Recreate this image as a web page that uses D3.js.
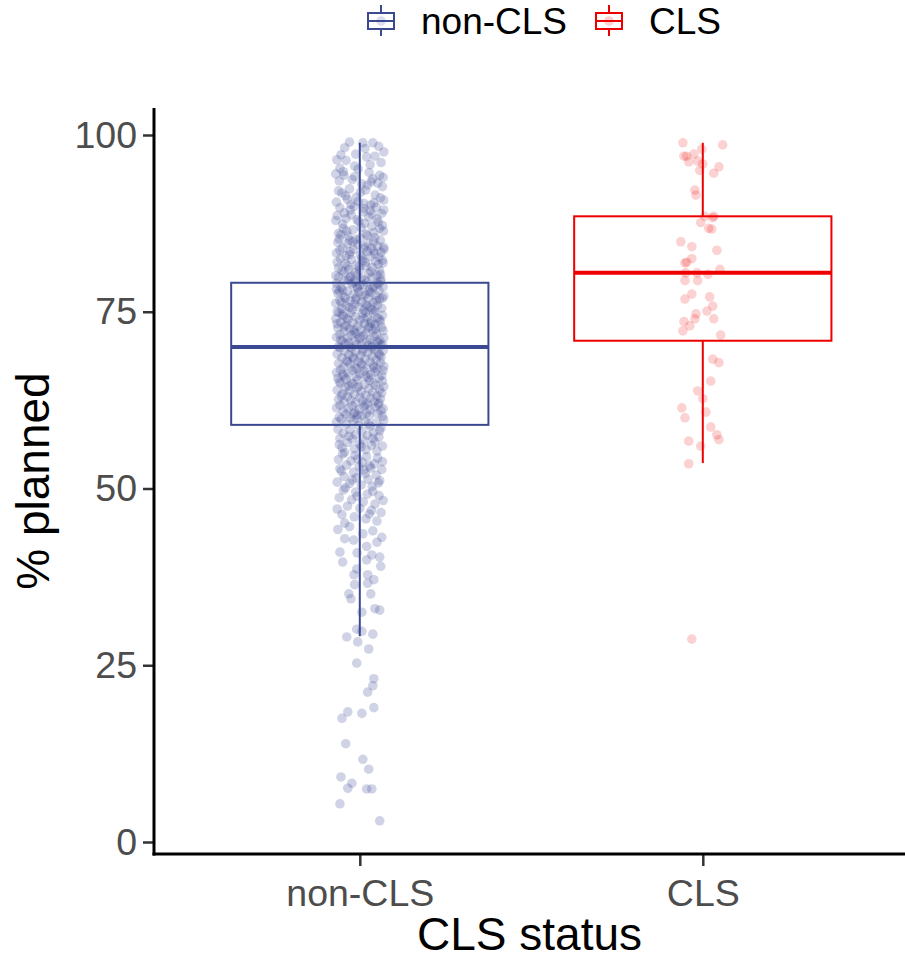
<!DOCTYPE html>
<html>
<head>
<meta charset="utf-8">
<script src="https://cdn.jsdelivr.net/npm/d3@7"></script>
<style>
  body { margin: 0; background: #fff; }
  text { font-family: "Liberation Sans", Arial, sans-serif; }
</style>
</head>
<body>
<div id="chart"></div>
<script>
// categories and colours (ggsci AAAS-like)
var categories = ["non-CLS", "CLS"];
var colors = ["#3B4992", "#EE0000"];
var yTicks = [0, 25, 50, 75, 100];

// box statistics: [lower whisker, Q1, median, Q3, upper whisker]
var boxNonCls = [29.1, 59.0, 70.0, 79.1, 98.9];
var boxCls = [53.6, 70.9, 80.5, 88.5, 98.9];

// jittered points: [horizontal jitter (category units), % planned]
var pointsNonCls = [
  [0.009,98.9],[0.038,98.9],[-0.044,98.2],[-0.012,97.3],[0.044,97],[-0.055,97.2],[0.02,96.9],[-0.015,95.6],[-0.058,95.3],[0.062,96.1],[0.03,95.8],[-0.03,99],[0.055,98.4],[-0.067,96.5],[0.07,97.6],[-0.005,95.2],[0.015,98.1],[-0.04,96.4],
  [-0.046,94.3],[-0.015,94.1],[0.058,94.3],[0.038,93.8],[-0.06,93.5],[0.005,93.1],[0.066,92.7],[-0.03,92.4],[0.022,92.9],[-0.052,91.8],[0.045,91.5],[-0.01,91.2],[0.07,90.8],[-0.068,90.5],[0.012,90.3],[0.032,90.1],[-0.036,90.9],[0.052,93.2],[-0.022,93.7],[0.06,91.1],[-0.062,92.1],[0.002,91.9],[0.027,94.7],[-0.048,94.8],[0.041,90.4],[-0.005,90.6],[0.017,92.2],[-0.041,91.4],[0.068,94],[-0.07,94.5],[0.033,93.4],[-0.026,90.2],
  [-0.058,89.7],[-0.028,89.4],[0.01,89.1],[0.048,89.8],[0.064,88.9],[-0.066,88.6],[-0.04,88.2],[0.026,88.4],[-0.008,88],[0.054,87.7],[-0.05,87.4],[0.035,87.1],[0.004,86.9],[-0.02,86.6],[0.069,86.4],[-0.062,86.1],[0.018,86],[-0.034,85.7],[0.044,85.5],[-0.012,85.2],[0.06,85.1],[-0.055,85.9],[0.03,89.3],[-0.045,89],[0.014,87.5],[-0.07,87.9],[0.058,86.8],[-0.025,88.7],[0.041,86.2],[0.001,85.4],[-0.038,86.4],[0.066,87.2],[-0.016,89.9],[0.022,85.8],[-0.06,85.3],[0.05,88.1],[-0.003,87.8],[0.036,88.8],[-0.048,86.8],[0.012,89.6],[0.07,89.4],[-0.03,85.1],
  [-0.064,84.8],[-0.036,84.6],[-0.006,84.5],[0.024,84.7],[0.052,84.3],[0.07,84.1],[-0.05,84],[-0.018,83.8],[0.012,83.9],[0.04,83.6],[0.062,83.4],[-0.068,83.3],[-0.03,83.1],[0.002,83],[0.03,82.8],[0.056,82.7],[-0.056,82.5],[-0.024,82.4],[0.008,82.2],[0.046,82.1],[0.068,81.9],[-0.042,81.8],[-0.01,81.6],[0.018,81.5],[0.036,81.3],[-0.062,81.2],[-0.032,81],[0.0,80.9],[0.058,80.8],[-0.046,80.6],[-0.014,80.5],[0.026,80.4],[0.05,80.2],[-0.07,80.1],[-0.026,80],[0.014,84.2],[0.044,83.2],[-0.04,82.9],[0.066,82.3],[-0.002,81.4],[0.032,80.7],[-0.058,83.7],[0.054,81.7],[-0.02,84.9],[0.006,82.6],[-0.066,82],[0.022,83.5],[0.06,80.3],[-0.036,81.5],[0.04,84.9],[-0.008,80.2],[-0.052,80.8],[0.016,82],[0.07,83.8],[-0.028,83.5],[0.034,84],
  [-0.062,79.9],[-0.03,79.8],[0.004,79.7],[0.036,79.9],[0.062,79.6],[-0.046,79.4],[-0.014,79.3],[0.02,79.2],[0.05,79.1],[-0.068,79],[-0.024,78.9],[0.01,78.8],[0.042,78.6],[0.068,78.5],[-0.054,78.4],[-0.006,78.3],[0.028,78.2],[0.056,78],[-0.036,77.9],[-0.002,77.8],[0.032,77.7],[-0.064,77.6],[-0.018,77.5],[0.016,77.4],[0.046,77.3],[0.07,77.2],[-0.044,77.1],[-0.01,77],[0.024,76.9],[0.058,76.8],[-0.058,76.6],[-0.028,76.5],[0.006,76.4],[0.04,76.3],[-0.07,76.2],[-0.016,76.1],[0.018,76],[0.052,75.9],[-0.04,75.8],[-0.004,75.7],[0.03,75.6],[0.064,75.5],[-0.052,75.4],[-0.022,75.3],[0.012,75.2],[0.044,75.1],[-0.066,75],[-0.034,79.5],[0.0,78.7],[0.026,77.9],[-0.05,78.1],[0.06,79.3],[-0.012,76.7],[0.048,76.6],[-0.03,75.6],[0.014,79.5],[-0.06,77.9],[0.066,76.9],[0.036,75.3],[-0.042,76.9],[-0.008,78.5],[0.054,78.9],[0.022,75.8],[-0.02,79.1],[-0.068,78.2],[0.008,77.2],[0.038,78.4],[-0.054,76.3],
  [-0.06,74.9],[-0.026,74.8],[0.008,74.7],[0.04,74.8],[0.066,74.5],[-0.048,74.4],[-0.012,74.3],[0.022,74.2],[0.052,74.1],[-0.07,74],[-0.034,73.9],[0.0,73.8],[0.034,73.7],[0.06,73.6],[-0.056,73.5],[-0.02,73.4],[0.014,73.3],[0.044,73.2],[-0.04,73.1],[-0.006,73],[0.028,72.9],[0.064,72.8],[-0.064,72.7],[-0.03,72.6],[0.004,72.5],[0.038,72.4],[0.068,72.3],[-0.046,72.2],[-0.016,72.1],[0.018,72],[0.048,71.9],[-0.058,71.8],[-0.024,71.7],[0.01,71.6],[0.042,71.5],[-0.068,71.4],[-0.036,71.3],[-0.002,71.2],[0.03,71.1],[0.058,71],[-0.05,70.9],[-0.014,70.8],[0.02,70.7],[0.054,70.6],[-0.042,70.5],[-0.008,70.4],[0.026,70.3],[0.062,70.2],[-0.062,70.1],[-0.028,70],[0.006,70.3],[0.036,70.1],[-0.052,74.6],[0.016,74.9],[0.058,73.9],[-0.044,72.9],[0.046,72.6],[-0.01,71.9],[0.07,71.3],[-0.032,70.6],[0.012,74],[-0.066,73.3],[0.032,73.4],[-0.018,72.4],[0.05,70.8],[-0.038,74.1],[0.002,71.4],[0.066,70.4],[-0.056,71],[0.024,72.7],
  [-0.058,69.9],[-0.024,69.8],[0.01,69.7],[0.044,69.6],[0.068,69.5],[-0.044,69.4],[-0.012,69.3],[0.024,69.2],[0.054,69.1],[-0.066,69],[-0.032,68.9],[0.002,68.8],[0.036,68.7],[0.062,68.6],[-0.052,68.5],[-0.018,68.4],[0.016,68.3],[0.048,68.2],[-0.038,68.1],[-0.004,68],[0.03,67.9],[0.06,67.8],[-0.062,67.7],[-0.028,67.6],[0.006,67.5],[0.04,67.4],[0.07,67.3],[-0.048,67.2],[-0.014,67.1],[0.02,67],[0.05,66.9],[-0.056,66.8],[-0.022,66.7],[0.012,66.6],[0.044,66.5],[-0.068,66.4],[-0.034,66.3],[0.0,66.2],[0.032,66.1],[0.064,66],[-0.046,65.9],[-0.01,65.8],[0.024,65.7],[0.056,65.6],[-0.04,65.5],[-0.006,65.4],[0.028,65.3],[0.066,65.2],[-0.06,65.1],[-0.026,65],[0.008,69.4],[0.058,68.9],[-0.036,67.9],[0.042,67.1],[-0.008,66.9],[-0.064,65.6],[0.018,65.9],[0.034,69.9],[-0.02,68.6],[0.068,66.7],[-0.05,66.1],[0.004,67.7],
  [-0.056,64.9],[-0.02,64.8],[0.014,64.7],[0.046,64.6],[0.07,64.4],[-0.042,64.3],[-0.008,64.2],[0.026,64.1],[0.058,64],[-0.066,63.9],[-0.03,63.8],[0.004,63.7],[0.038,63.6],[0.064,63.5],[-0.05,63.4],[-0.016,63.3],[0.018,63.2],[0.05,63.1],[-0.036,63],[0.0,62.9],[0.032,62.8],[0.06,62.7],[-0.062,62.6],[-0.026,62.5],[0.008,62.4],[0.042,62.3],[-0.046,62.2],[-0.012,62.1],[0.022,62],[0.054,61.9],[-0.058,61.8],[-0.022,61.7],[0.012,61.6],[0.044,61.5],[-0.068,61.4],[-0.034,61.3],[-0.002,61.2],[0.03,61.1],[0.062,61],[-0.048,60.9],[-0.014,60.8],[0.02,60.7],[0.052,60.6],[-0.04,60.5],[-0.006,60.4],[0.028,60.3],[0.066,60.2],[-0.06,60.1],[-0.028,60],[0.006,60.3],[0.04,64.9],[-0.032,64.5],[0.056,62.1],[-0.054,63.1],[0.016,61.9],[-0.004,64.4],[0.068,61.3],[-0.018,60.6],
  [-0.054,59.8],[-0.018,59.6],[0.016,59.5],[0.048,59.3],[-0.04,59.1],[-0.004,58.9],[0.03,58.8],[0.062,58.6],[-0.064,58.4],[-0.028,58.3],[0.006,58.1],[0.04,57.9],[-0.048,57.8],[-0.012,57.6],[0.022,57.5],[0.056,57.3],[-0.058,57.1],[-0.022,57],[0.012,56.8],[0.044,56.6],[-0.036,56.5],[0.0,56.3],[0.034,56.1],[0.066,56],[-0.052,55.8],[-0.016,55.6],[0.018,55.5],[0.05,55.3],[-0.044,55.1],[-0.008,59.9],[0.026,59.1],[-0.068,59.4],[0.058,58.2],[-0.032,57.4],[0.004,55.9],[0.038,57.1],[-0.06,56.2],[0.07,59.7],
  [-0.05,54.9],[-0.014,54.7],[0.02,54.5],[0.052,54.3],[-0.062,54.1],[-0.026,53.9],[0.008,53.7],[0.042,53.5],[-0.038,53.3],[-0.002,53.1],[0.032,52.9],[0.064,52.7],[-0.054,52.5],[-0.018,52.3],[0.016,52.1],[0.048,51.9],[-0.046,51.7],[-0.01,51.5],[0.024,51.3],[0.058,51.1],[-0.066,50.9],[-0.03,50.7],[0.004,50.5],[0.036,50.3],[-0.042,50.1],[-0.006,54.2],[0.028,53.2],[-0.058,52.8],[0.054,50.8],[0.012,52.6],[-0.022,51.2],[0.066,53.8],
  [-0.048,49.8],[-0.012,49.5],[0.022,49.2],[0.056,49],[-0.06,48.7],[-0.024,48.4],[0.01,48.1],[0.044,47.8],[-0.036,47.5],[0.0,47.2],[0.034,46.9],[0.062,46.6],[-0.052,46.3],[-0.016,46],[0.018,45.7],[0.05,45.4],[-0.044,45.1],[-0.008,48.9],[0.028,46.4],[-0.066,47.1],[0.068,48.3],[0.038,49.6],
  [-0.044,42.9],[-0.018,42.7],[0.009,43.6],[0.038,44],[-0.058,41],[0.035,40.6],[0.058,40.3],[-0.03,44.6],[0.02,41.8],[-0.008,40.9],[0.05,42.4],[-0.064,44.2],[0.064,43.1],
  [-0.05,39.6],[-0.009,38.6],[0.02,39.9],[0.061,39],[-0.017,37.8],[0.023,37.8],[0.041,37.1],[-0.015,36.4],[0.023,36.6],[-0.032,35.1],[-0.026,34.4],[0.032,35.1],[0.006,32.5],[0.044,33],[0.058,32.8],
  [-0.009,30.1],[0.006,29.8],[-0.038,29],[0.038,29.4],[-0.006,28.3],[0.026,27.3],[-0.009,25.3],[0.041,23.1],[0.038,22.1],[0.023,21.2],[-0.035,18.4],[-0.052,17.5],[0.006,18.2],[0.041,19],
  [-0.041,13.9],[0.009,11.7],[0.026,10.3],[-0.055,9.2],[-0.023,8.3],[-0.035,7.6],[0.02,7.5],[0.035,7.5],[-0.058,5.4],[0.058,3.0]
];

var pointsCls = [
  [-0.058,98.9],[0.058,98.6],[-0.003,98],[-0.055,97],[-0.047,97],[-0.026,97.3],[-0.041,96.2],[-0.015,96.3],[0,95.9],[0.047,95.5],[-0.009,95],[0.032,94.6],
  [-0.023,92.2],[-0.02,91.5],[0.006,88.5],[0.032,88.5],[0.029,88.3],[-0.006,87.6],[0.017,86.8],[0.026,86.7],[-0.064,84.9],[-0.032,84.2],[0.041,83.7],
  [-0.032,82.5],[-0.047,82],[-0.052,81.9],[0.05,81],[-0.05,80.5],[-0.017,80.5],[0.015,80.3],[-0.052,79.4],[-0.015,79.4],[-0.032,77.5],[-0.052,76.8],[0.02,77.1],
  [0.029,75.8],[0.012,75.1],[-0.02,74.7],[-0.023,74],[0.032,74],[-0.055,73.6],[-0.038,73],[-0.058,72.3],[0.052,71.7],[0.029,68.3],[0.047,67.8],
  [0.023,65.2],[-0.015,63.8],[0,62.7],[-0.061,61.4],[-0.052,60],[0.009,60.8],[0.023,58.7],[0.041,57.6],[0.047,56.9],[-0.041,56.7],[-0.006,56],[-0.041,53.5],[-0.032,28.7]
];

var groups = [
  {name: categories[0], color: colors[0], box: boxNonCls, points: pointsNonCls, alpha: 0.24},
  {name: categories[1], color: colors[1], box: boxCls, points: pointsCls, alpha: 0.18}
];

var W = 905, H = 961;
var panel = {left: 154, top: 108, bottom: 854, right: 905};

var svg = d3.select("#chart").append("svg")
    .attr("width", W)
    .attr("height", H);

// discrete positions 1..n with ggplot-like 0.6 expansion
var x = d3.scaleLinear().domain([0.4, 2.6]).range([panel.left, panel.left + 343 * 2.2]);
var y = d3.scaleLinear().domain([0, 100]).range([842, 135]);
var boxWidth = 0.75;

// jitter points
var pts = svg.append("g");
groups.forEach(function (g, i) {
    pts.selectAll(null)
        .data(g.points)
        .enter().append("circle")
        .attr("cx", d => x(i + 1 + d[0]))
        .attr("cy", d => y(d[1]))
        .attr("r", 4.8)
        .attr("fill", g.color)
        .attr("fill-opacity", g.alpha);
});

// boxplots
var boxes = svg.selectAll(".box")
    .data(groups)
    .enter().append("g")
    .attr("class", "box")
    .attr("stroke", d => d.color)
    .attr("fill", "none");

boxes.append("line")
    .attr("x1", (d, i) => x(i + 1)).attr("x2", (d, i) => x(i + 1))
    .attr("y1", d => y(d.box[3])).attr("y2", d => y(d.box[4]))
    .attr("stroke-width", 2);
boxes.append("line")
    .attr("x1", (d, i) => x(i + 1)).attr("x2", (d, i) => x(i + 1))
    .attr("y1", d => y(d.box[0])).attr("y2", d => y(d.box[1]))
    .attr("stroke-width", 2);
boxes.append("rect")
    .attr("x", (d, i) => x(i + 1 - boxWidth / 2))
    .attr("width", x(1 + boxWidth) - x(1))
    .attr("y", d => y(d.box[3]))
    .attr("height", d => y(d.box[1]) - y(d.box[3]))
    .attr("stroke-width", 2);
boxes.append("line")
    .attr("x1", (d, i) => x(i + 1 - boxWidth / 2)).attr("x2", (d, i) => x(i + 1 + boxWidth / 2))
    .attr("y1", d => y(d.box[2])).attr("y2", d => y(d.box[2]))
    .attr("stroke-width", 4);

// axes
var yAxis = svg.append("g")
    .attr("transform", "translate(" + panel.left + ",0)")
    .call(d3.axisLeft(y).tickValues(yTicks).tickSize(11).tickPadding(6));
var xAxis = svg.append("g")
    .attr("transform", "translate(0," + panel.bottom + ")")
    .call(d3.axisBottom(x).tickValues([1, 2]).tickFormat(d => categories[d - 1]).tickSize(12).tickPadding(6));

[yAxis, xAxis].forEach(function (a) {
    a.select(".domain").remove();
    a.selectAll(".tick line").attr("stroke", "#333").attr("stroke-width", 2.5);
    a.selectAll(".tick text").attr("fill", "#4D4D4D").style("font-size", "37.5px");
});
xAxis.selectAll(".tick text").attr("dy", "0.9em");

svg.append("line")
    .attr("x1", panel.left).attr("x2", panel.left)
    .attr("y1", panel.top).attr("y2", panel.bottom + 1.5)
    .attr("stroke", "#000").attr("stroke-width", 3);
svg.append("line")
    .attr("x1", panel.left - 1.5).attr("x2", panel.right)
    .attr("y1", panel.bottom).attr("y2", panel.bottom)
    .attr("stroke", "#000").attr("stroke-width", 3);

// axis titles
svg.append("text")
    .attr("x", (panel.left + panel.right) / 2)
    .attr("y", 950)
    .attr("text-anchor", "middle")
    .style("font-size", "46px")
    .text("CLS status");
svg.append("text")
    .attr("transform", "translate(49,481) rotate(-90)")
    .attr("text-anchor", "middle")
    .style("font-size", "46px")
    .text("% planned");

// legend
var legend = svg.append("g");
var keyX = [367, 595];
groups.forEach(function (g, i) {
    var k = legend.append("g")
        .attr("transform", "translate(" + keyX[i] + ",5)")
        .attr("stroke", g.color)
        .attr("fill", "none");
    k.append("line").attr("x1", 14).attr("x2", 14).attr("y1", 0).attr("y2", 8).attr("stroke-width", 2);
    k.append("line").attr("x1", 14).attr("x2", 14).attr("y1", 24).attr("y2", 31).attr("stroke-width", 2);
    k.append("rect").attr("x", 1).attr("y", 8).attr("width", 26).attr("height", 16).attr("stroke-width", 2);
    k.append("line").attr("x1", 1).attr("x2", 27).attr("y1", 16).attr("y2", 16).attr("stroke-width", 2);
    k.append("circle").attr("cx", 14).attr("cy", 16).attr("r", 4.8)
        .attr("stroke", "none").attr("fill", g.color).attr("fill-opacity", 0.18);
    legend.append("text")
        .attr("x", keyX[i] + 54)
        .attr("y", 21)
        .attr("dy", "0.36em")
        .style("font-size", "37px")
        .text(g.name);
});
</script>
</body>
</html>
